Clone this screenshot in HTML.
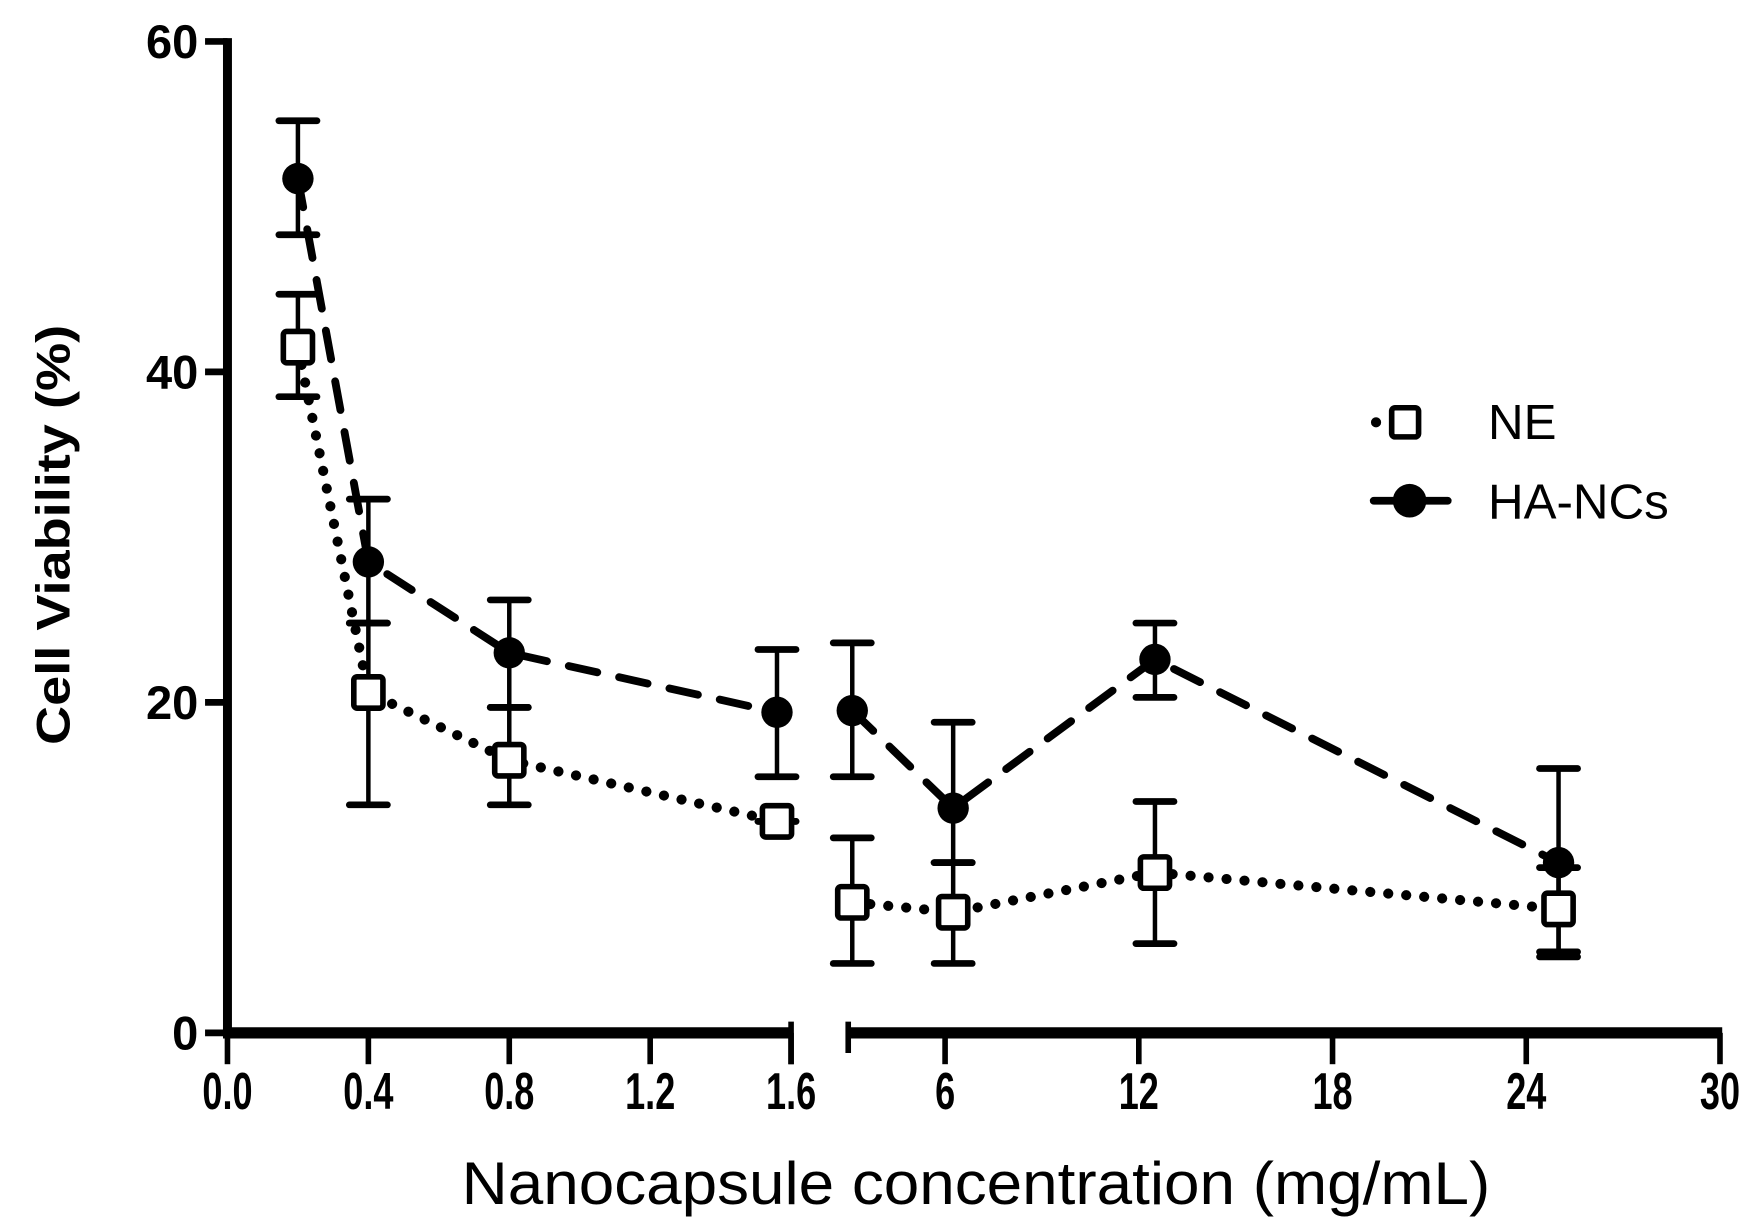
<!DOCTYPE html>
<html><head><meta charset="utf-8"><style>
html,body{margin:0;padding:0;background:#fff;}
svg{display:block;}
</style></head><body>
<svg id="chart" width="1748" height="1230" viewBox="0 0 1560 1098" preserveAspectRatio="none" xmlns="http://www.w3.org/2000/svg">
<g id="axes"></g>
<g id="series"></g>
<g id="legend">
  <line x1="1228" y1="377" x2="1275" y2="377" stroke="#000" stroke-width="9" stroke-linecap="round" stroke-dasharray="0.1 16"/>
  <rect x="1242" y="364" width="24" height="26" rx="3" fill="#fff" stroke="#000" stroke-width="5"/>
  <text x="1328" y="392" font-family="Liberation Sans, sans-serif" font-size="44">NE</text>
  <line x1="1226" y1="447" x2="1292" y2="447" stroke="#000" stroke-width="7" stroke-linecap="round"/>
  <circle cx="1258" cy="447" r="15" fill="#000"/>
  <text x="1328" y="463" font-family="Liberation Sans, sans-serif" font-size="44">HA-NCs</text>
</g>
<text x="412" y="1075" textLength="918" lengthAdjust="spacingAndGlyphs" font-family="Liberation Sans, sans-serif" font-size="54">Nanocapsule concentration (mg/mL)</text>
<text transform="translate(62,665) rotate(-90)" x="0" y="0" textLength="375" lengthAdjust="spacingAndGlyphs" font-family="Liberation Sans, sans-serif" font-weight="bold" font-size="42">Cell Viability (%)</text>
</svg>
<script>
const xs = [0.2, 0.4, 0.8, 1.56, 3.125, 6.25, 12.5, 25];
const haMean = [51.7, 28.5, 23.0, 19.4, 19.5, 13.6, 22.6, 10.3];
const haUp = [55.2, 32.3, 26.2, 23.2, 23.6, 18.8, 24.8, 16.0];
const haLow = [48.3, 24.8, 19.7, 15.5, 15.5, 10.3, 20.3, 4.9];
const neMean = [41.5, 20.6, 16.5, 12.8, 7.9, 7.3, 9.7, 7.5];
const neUp = [44.7, 24.8, 19.7, 12.8, 11.8, 10.3, 14.0, 10.0];
const neLow = [38.5, 13.8, 13.8, 12.8, 4.2, 4.2, 5.4, 4.6];
const yTicks = [0, 20, 40, 60];
const xTicksLeft = ["0.0", "0.4", "0.8", "1.2", "1.6"];
const xTicksRight = ["6", "12", "18", "24", "30"];

const NS = "http://www.w3.org/2000/svg";
function X(v){ return v <= 1.6 ? 203 + v/1.6*503 : 757 + (v-3)/27*778; }
function Y(v){ return 922 - v/60*885; }
function mk(tag, attrs, parent){
  const e = document.createElementNS(NS, tag);
  for (const k in attrs) e.setAttribute(k, attrs[k]);
  parent.appendChild(e); return e;
}
const axes = document.getElementById('axes');
const ser = document.getElementById('series');

let ya = mk('line', {x1:203,y1:Y(60)-3,x2:203,y2:926,stroke:'#000','stroke-width':8}, axes);


yTicks.forEach(t=>{
  let tk = mk('line',{x1:183,y1:Y(t),x2:203,y2:Y(t),stroke:'#000','stroke-width':6},axes);
  
  
  let tl = mk('text',{x:177,y:Y(t)+15,'text-anchor':'end','font-family':'Liberation Sans, sans-serif','font-weight':'bold','font-size':42},axes);
  tl.textContent = t;
  
  
});
let xa1 = mk('line',{x1:199,y1:922,x2:706,y2:922,stroke:'#000','stroke-width':10},axes);


let xa2 = mk('line',{x1:757,y1:922,x2:1537,y2:922,stroke:'#000','stroke-width':10},axes);


let b1 = mk('line',{x1:706,y1:912,x2:706,y2:950,stroke:'#000','stroke-width':5},axes);


let b2 = mk('line',{x1:757,y1:912,x2:757,y2:940,stroke:'#000','stroke-width':5},axes);


function xTick(px, label){
  let tk = mk('line',{x1:px,y1:922,x2:px,y2:950,stroke:'#000','stroke-width':5},axes);
  
  
  let tl = mk('text',{x:0,y:0,'text-anchor':'middle','font-family':'Liberation Sans, sans-serif','font-weight':'bold','font-size':46,transform:`translate(${px},${990}) scale(0.7,1)`},axes);
  tl.textContent = label;
  
  
}
xTicksLeft.forEach(l=>xTick(X(parseFloat(l)), l));
xTicksRight.forEach(l=>xTick(X(parseFloat(l)), l));

function pathFor(means, i0, i1){
  let d=''; for(let i=i0;i<=i1;i++){ d += (i===i0?'M':'L') + X(xs[i]) + ' ' + Y(means[i]) + ' '; } return d;
}
[[0,3],[4,7]].forEach(([a,b])=>{
  let l1 = mk('path',{d:pathFor(neMean,a,b),fill:'none',stroke:'#000','stroke-width':9,'stroke-linecap':'round','stroke-dasharray':'0.1 16'},ser);
  
  
  let l2 = mk('path',{d:pathFor(haMean,a,b),fill:'none',stroke:'#000','stroke-width':7,'stroke-linecap':'round','stroke-dasharray':'26 20'},ser);
  
  
});
function errbar(i, up, low, name){
  const x = X(xs[i]);
  const g = mk('g',{},ser);
  
  
  mk('line',{x1:x,y1:Y(up[i]),x2:x,y2:Y(low[i]),stroke:'#000','stroke-width':4},g);
  mk('line',{x1:x-17,y1:Y(up[i]),x2:x+17,y2:Y(up[i]),stroke:'#000','stroke-width':6,'stroke-linecap':'round'},g);
  mk('line',{x1:x-17,y1:Y(low[i]),x2:x+17,y2:Y(low[i]),stroke:'#000','stroke-width':6,'stroke-linecap':'round'},g);
}
xs.forEach((v,i)=>{
  errbar(i, neUp, neLow, 'ne-error-bar');
  errbar(i, haUp, haLow, 'ha-ncs-error-bar');
});
xs.forEach((v,i)=>{
  let s = mk('rect',{x:X(v)-13,y:Y(neMean[i])-14,width:26,height:28,rx:3,fill:'#fff',stroke:'#000','stroke-width':5},ser);
  
  
  let c = mk('circle',{cx:X(v),cy:Y(haMean[i]),r:14,fill:'#000'},ser);
  
  
});
</script>
</body></html>
